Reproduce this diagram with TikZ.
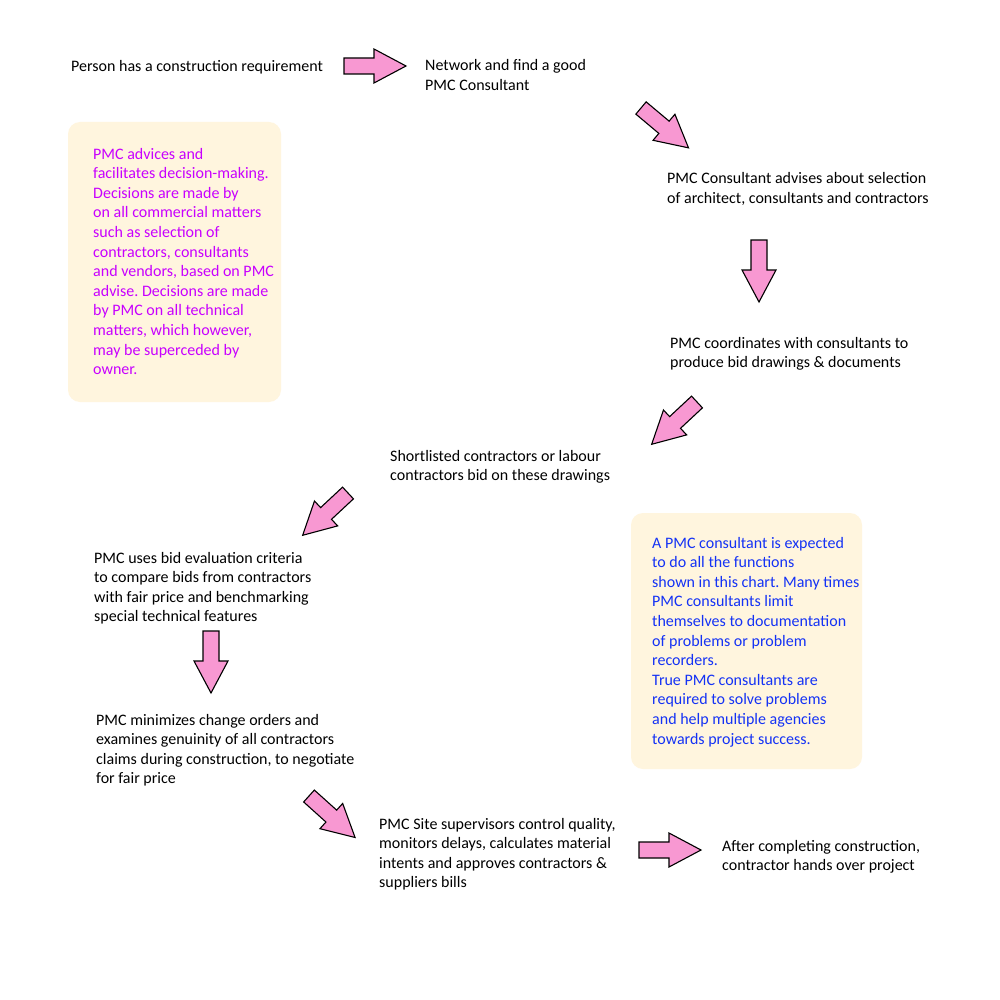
\documentclass[tikz,border=0pt]{standalone}
\usepackage{fontspec}
\setmainfont{Carlito}
\frenchspacing
\definecolor{arrowpink}{RGB}{248,152,210}
\definecolor{notefill}{RGB}{255,245,222}
\definecolor{notemag}{RGB}{200,0,255}
\definecolor{noteblue}{RGB}{20,50,245}
\begin{document}
\begin{tikzpicture}[x=1pt,y=-1pt,
  step text/.style={anchor=base west, align=left, inner sep=0pt,
    font=\fontsize{16}{19.6}\selectfont, text=black},
  notebox/.style={fill=notefill, draw=none, rounded corners=12pt,
    minimum width=#1, inner sep=0pt},
  note text/.style={anchor=base west, align=left, inner sep=0pt,
    font=\fontsize{16}{19.6}\selectfont},
  blockarrow/.pic={\draw[fill=arrowpink, draw=black, line width=1.1pt, line join=miter]
    (0,-8) -- (30,-8) -- (30,-17) -- (62,0) -- (30,17) -- (30,8) -- (0,8) -- cycle;}
]
\useasboundingbox (0,0) rectangle (1000,1000);
\fill[white] (0,0) rectangle (1000,1000);

% notes (base anchor = baseline of last line)
\node[notebox=213pt, minimum height=280pt] (note1) at (174.5,262) {};
\node[note text, text=notemag] (note1text) at (93,374.6) {PMC advices and\\facilitates decision-making.\\Decisions are made by\\on all commercial matters\\such as selection of\\contractors, consultants\\and vendors, based on PMC\\advise. Decisions are made\\by PMC on all technical\\matters, which however,\\may be superceded by\\owner.};

\node[notebox=231pt, minimum height=256pt] (note2) at (746.5,641) {};
\node[note text, text=noteblue] (note2text) at (652,744) {A PMC consultant is expected\\to do all the functions\\shown in this chart. Many times\\PMC consultants limit\\themselves to documentation\\of problems or problem\\recorders.\\True PMC consultants are\\required to solve problems\\and help multiple agencies\\towards project success.};

% steps
\node[step text] (s1) at (71,72) {Person has a construction requirement};
\node[step text] (s2) at (425,90.6) {Network and find a good\\PMC Consultant};
\node[step text] (s3) at (667,203.6) {PMC Consultant advises about selection\\of architect, consultants and contractors};
\node[step text] (s4) at (670,367.6) {PMC coordinates with consultants to\\produce bid drawings \& documents};
\node[step text] (s5) at (390,480.6) {Shortlisted contractors or labour\\contractors bid on these drawings};
\node[step text] (s6) at (94,621.8) {PMC uses bid evaluation criteria\\to compare bids from contractors\\with fair price and benchmarking\\special technical features};
\node[step text] (s7) at (96,783.8) {PMC minimizes change orders and\\examines genuinity of all contractors\\claims during construction, to negotiate\\for fair price};
\node[step text] (s8) at (379,887.8) {PMC Site supervisors control quality,\\monitors delays, calculates material\\intents and approves contractors \&\\suppliers bills};
\node[step text] (s9) at (722,870.6) {After completing construction,\\contractor hands over project};

% block arrows
\pic (a1) at (344,66) {blockarrow};
\pic[rotate=-40] (a2) at (641,108) {blockarrow};
\pic[rotate=-90] (a3) at (759,240) {blockarrow};
\pic[rotate=-137] (a4) at (697,402) {blockarrow};
\pic[rotate=-137] (a5) at (348,493) {blockarrow};
\pic[rotate=-90] (a6) at (211,631) {blockarrow};
\pic[rotate=-42] (a7) at (309,796) {blockarrow};
\pic (a8) at (639,850) {blockarrow};
\end{tikzpicture}
\end{document}
